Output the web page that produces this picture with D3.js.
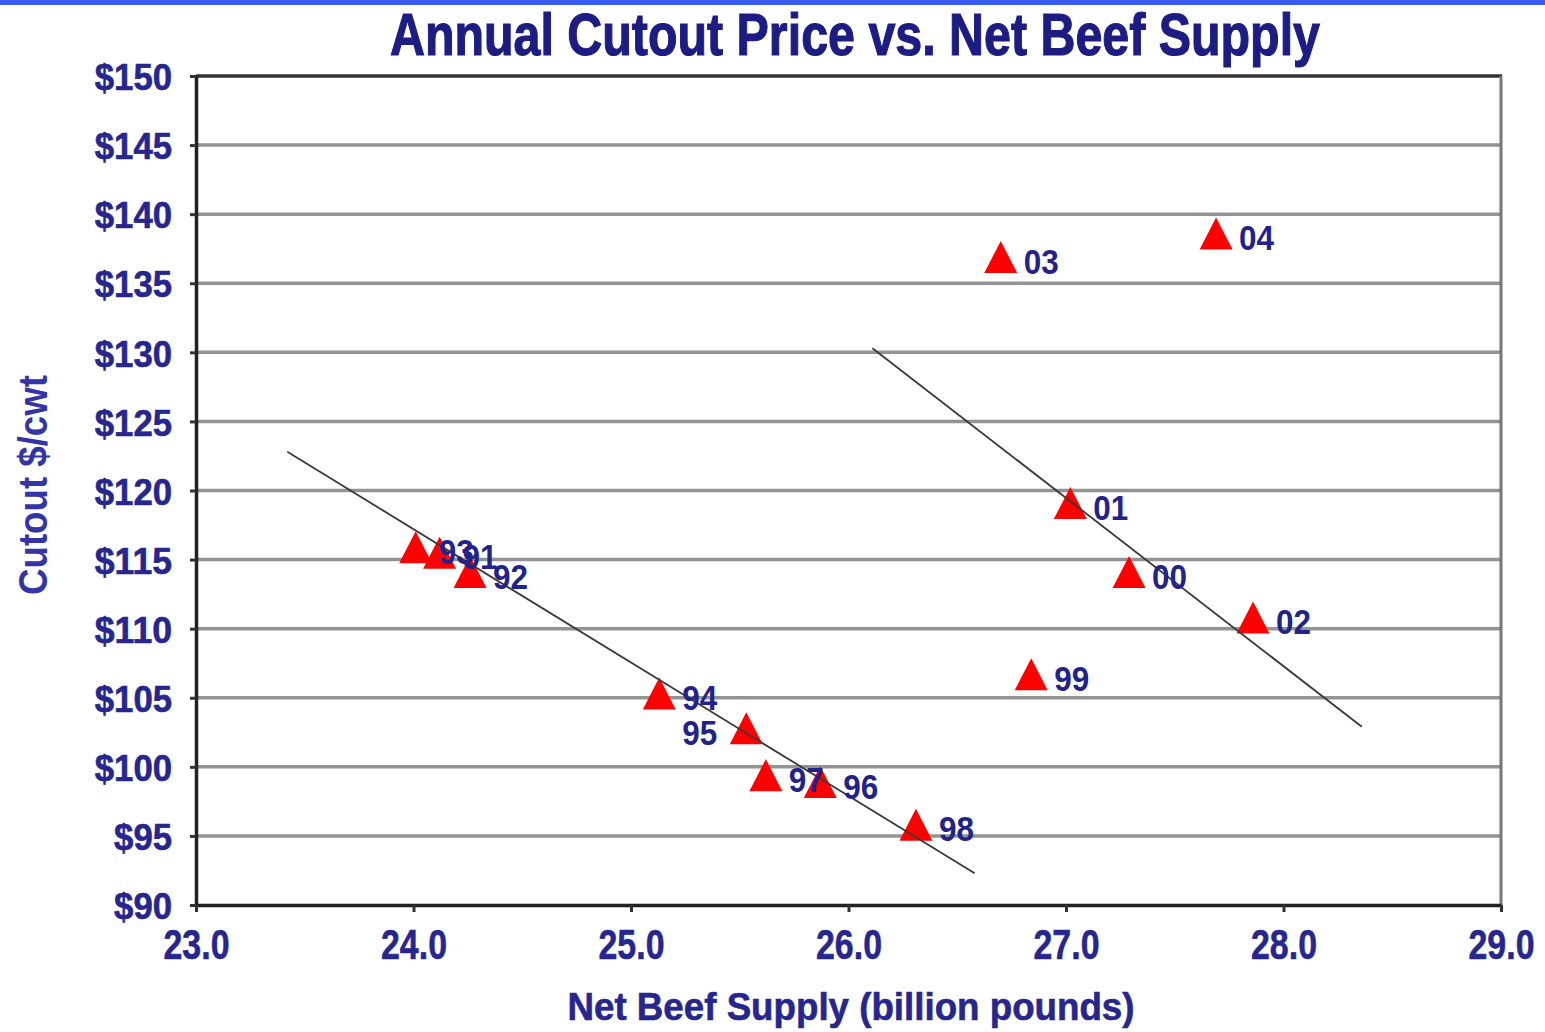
<!DOCTYPE html>
<html><head><meta charset="utf-8">
<script src="https://cdn.jsdelivr.net/npm/d3@7"></script>
<style>body{margin:0;background:#fff;} svg{display:block}</style>
</head><body><svg id="c" width="1545" height="1032"></svg>
<script>
const years  = ["93","91","92","94","95","97","96","98","99","00","01","02","03","04"];
const supply = [24.01,24.12,24.26,25.13,25.53,25.62,25.87,26.31,26.84,27.29,27.02,27.86,26.70,27.69];
const cutout = [115.9,115.5,114.1,105.3,102.8,99.4,98.9,95.8,106.7,114.1,119.1,110.8,136.9,138.6];
const trendEarlyX = [23.42, 26.58];
const trendEarlyY = [122.8, 92.3];
const trendLateX  = [26.11, 28.36];
const trendLateY  = [130.3, 102.9];
const xTicks = [23,24,25,26,27,28,29];
const yTicks = [90,95,100,105,110,115,120,125,130,135,140,145,150];
const titleText = "Annual Cutout Price vs. Net Beef Supply";
const xTitle = "Net Beef Supply (billion pounds)";
const yTitle = "Cutout $/cwt";

const svg = d3.select("#c");
const FONT = "'Liberation Sans', Arial, sans-serif";
const L = 196, R = 1501, T = 76, B = 905;
const x = d3.scaleLinear().domain([23,29]).range([L,R]);
const y = d3.scaleLinear().domain([90,150]).range([B,T]);

// top blue band
svg.append("rect").attr("x",0).attr("y",0).attr("width",1545).attr("height",5).attr("fill","#3a5cf0");

// title
svg.append("text").attr("x",855).attr("y",55).attr("text-anchor","middle")
  .attr("font-family",FONT).attr("font-weight","bold").attr("font-size",60)
  .attr("fill","#1c1c82").attr("stroke","#1c1c82").attr("stroke-width",1.2)
  .attr("textLength",930).attr("lengthAdjust","spacingAndGlyphs")
  .text(titleText);

// gridlines
svg.append("g").selectAll("line").data(yTicks.filter(d=>d>90 && d<150)).join("line")
  .attr("x1",L).attr("x2",R).attr("y1",d=>y(d)).attr("y2",d=>y(d))
  .attr("stroke","#939393").attr("stroke-width",3.5);
// top and right border
svg.append("line").attr("x1",L).attr("x2",R+1).attr("y1",y(150)).attr("y2",y(150)).attr("stroke","#333").attr("stroke-width",3.5);
svg.append("line").attr("x1",R).attr("x2",R).attr("y1",T).attr("y2",B).attr("stroke","#777").attr("stroke-width",3);

// axes
const yAxis = svg.append("g").attr("transform",`translate(${L},0)`)
  .call(d3.axisLeft(y).tickValues(yTicks).tickSize(6).tickSizeOuter(0).tickPadding(18).tickFormat(d=>"$"+d));
const xAxis = svg.append("g").attr("transform",`translate(0,${B})`)
  .call(d3.axisBottom(x).tickValues(xTicks).tickSize(7).tickSizeOuter(0).tickPadding(16).tickFormat(d3.format(".1f")));
[yAxis,xAxis].forEach(g=>{
  g.select(".domain").attr("stroke","#222").attr("stroke-width",3.5);
  g.selectAll(".tick line").attr("stroke","#333").attr("stroke-width",3);
  g.selectAll("text").attr("font-family",FONT).attr("font-weight","bold").attr("fill","#26268e")
    .attr("stroke","#26268e").attr("stroke-width",0.6)
    .attr("lengthAdjust","spacingAndGlyphs");
});
yAxis.selectAll("text").attr("font-size",36).attr("dy","0.38em")
  .attr("textLength",function(d){return 19.3*("$"+d).length;});
xAxis.selectAll("text").attr("font-size",43).attr("textLength",66);

// markers
const tri = {draw(ctx,size){const w=Math.sqrt(size), h=w*0.97;
  ctx.moveTo(0,-h/2); ctx.lineTo(w/2,h/2); ctx.lineTo(-w/2,h/2); ctx.closePath();}};
const pts = years.map((yr,i)=>({yr, sx:supply[i], cy:cutout[i]}));
svg.append("g").selectAll("path").data(pts).join("path")
  .attr("d",d3.symbol().type(tri).size(33*33))
  .attr("transform",d=>`translate(${x(d.sx)},${y(d.cy)})`)
  .attr("fill","#ff0000");

// trend lines
const line = d3.line().x(d=>x(d[0])).y(d=>y(d[1]));
[[trendEarlyX,trendEarlyY],[trendLateX,trendLateY]].forEach(([xs,ys])=>{
  svg.append("path").attr("d",line(xs.map((v,i)=>[v,ys[i]])))
    .attr("fill","none").attr("stroke","#3a3a3a").attr("stroke-width",1.8);
});

// point labels
const leftLabels = new Set(["95"]);
svg.append("g").selectAll("text").data(pts).join("text")
  .attr("x",d=>leftLabels.has(d.yr)? x(d.sx)-29 : x(d.sx)+23)
  .attr("y",d=>y(d.cy)+4)
  .attr("dy","0.36em")
  .attr("text-anchor",d=>leftLabels.has(d.yr)?"end":"start")
  .attr("font-family",FONT).attr("font-weight","bold").attr("font-size",35)
  .attr("fill","#22228a").attr("textLength",35).attr("lengthAdjust","spacingAndGlyphs")
  .text(d=>d.yr);

// axis titles
svg.append("text").attr("x",851).attr("y",1020).attr("text-anchor","middle")
  .attr("font-family",FONT).attr("font-weight","bold").attr("font-size",38)
  .attr("fill","#26268e").attr("stroke","#26268e").attr("stroke-width",0.6)
  .attr("textLength",567).attr("lengthAdjust","spacingAndGlyphs")
  .text(xTitle);
svg.append("text").attr("transform","translate(47,485) rotate(-90)").attr("text-anchor","middle")
  .attr("font-family",FONT).attr("font-weight","bold").attr("font-size",40)
  .attr("fill","#3434a6").attr("textLength",220).attr("lengthAdjust","spacingAndGlyphs")
  .text(yTitle);
</script></body></html>
